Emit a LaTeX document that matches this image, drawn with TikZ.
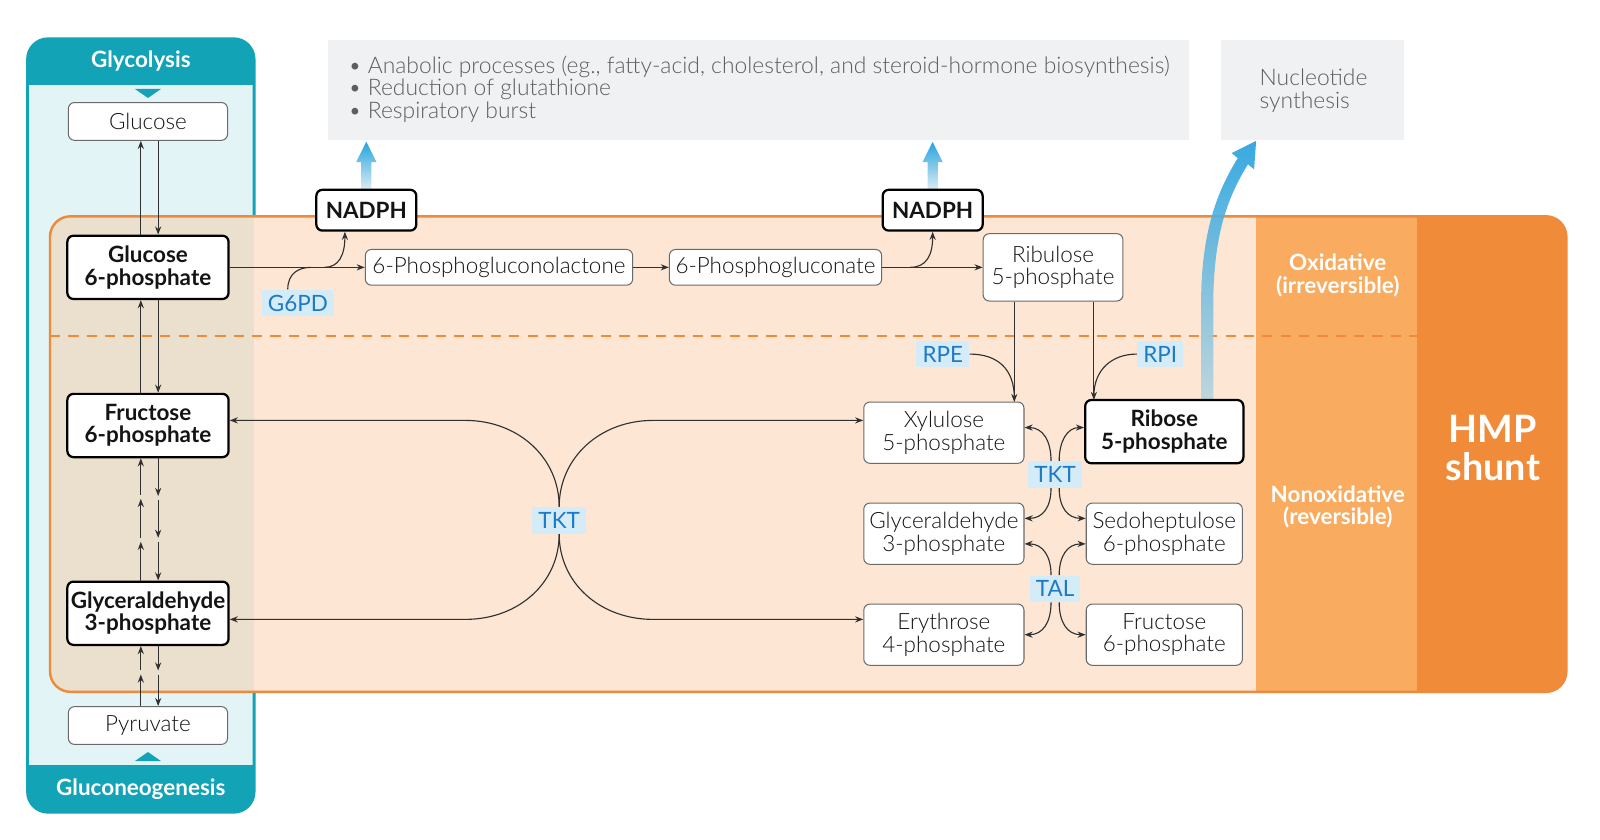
\documentclass[tikz,border=0pt]{standalone}
\usepackage{fontspec}
\setmainfont{Lato}
\IfFontExistsTF{Lato Light}{\newfontfamily\lightfont{Lato Light}}{\let\lightfont\relax}
\usetikzlibrary{arrows.meta,calc}
\definecolor{hdrteal}{HTML}{12A3B7}
\definecolor{cyanbg}{HTML}{E3F4F6}
\definecolor{orbord}{HTML}{EE8A3A}
\definecolor{beigebg}{HTML}{FDE6D3}
\definecolor{overlapbg}{HTML}{EBE0CD}
\definecolor{midor}{HTML}{F9AB5F}
\definecolor{darkor}{HTML}{EF8B39}
\definecolor{grayboxbg}{HTML}{F0F1F3}
\definecolor{graytxt}{HTML}{5E5E5E}
\definecolor{enzfill}{HTML}{D4ECF8}
\definecolor{enzblue}{HTML}{1F7AC4}
\definecolor{hblue}{HTML}{27A3DE}
\definecolor{hlight}{HTML}{E4F0F5}
\definecolor{hgray}{HTML}{BCD5DE}
\definecolor{arrgray}{HTML}{303030}
\definecolor{boxgray}{HTML}{6A6A6A}
\definecolor{nodetxt}{HTML}{141414}
\begin{document}
\begin{tikzpicture}[x=0.5pt,y=-0.5pt,
  box/.style={draw=boxgray, line width=0.5pt, fill=white, rounded corners=3pt, align=center, inner sep=0pt, text=nodetxt, font=\lightfont\fontsize{11}{11}\selectfont},
  bbox/.style={box, draw=black, line width=1.1pt, font=\normalfont\bfseries\fontsize{11}{11}\selectfont},
  enz/.style={fill=enzfill, text=enzblue, inner xsep=3pt, inner ysep=0pt, minimum height=13pt, font=\fontsize{11}{11}\selectfont},
  arr/.style={-{Stealth[length=4pt,width=3pt]}, line width=0.55pt, draw=arrgray},
  ln/.style={line width=0.55pt, draw=arrgray},
  hdr/.style={text=white, font=\bfseries\fontsize{11}{11}\selectfont},
  side/.style={text=white, align=center, font=\bfseries\fontsize{11}{11}\selectfont},
  graytext/.style={text=graytxt, anchor=base west, inner sep=0pt, font=\lightfont\fontsize{11.2}{11}\selectfont}
]
\useasboundingbox (0,0) rectangle (1568,823);
\fill[white] (0,0) rectangle (1568,823);

% ---------- blue glycolysis box ----------
\begin{scope}
  \clip[rounded corners=10pt] (27,38) rectangle (249,796);
  \fill[cyanbg] (27,38) rectangle (249,796);
  \fill[hdrteal] (27,38) rectangle (249,83);
  \fill[hdrteal] (27,750) rectangle (249,796);
\end{scope}
\draw[hdrteal, line width=1.4pt, rounded corners=10pt] (27,38) rectangle (249,796);
\node[hdr] (glyc) at (138,60) {Glycolysis};
\node[hdr] (gneo) at (138,773) {Gluconeogenesis};
\fill[hdrteal] (132,87) -- (158,87) -- (145,96) -- cycle;
\fill[hdrteal] (132,746) -- (158,746) -- (145,737) -- cycle;

% ---------- orange HMP box ----------
\begin{scope}
  \clip[rounded corners=10pt] (49,212) rectangle (1535,678);
  \fill[beigebg] (49,212) rectangle (1535,678);
  \fill[overlapbg] (49,212) rectangle (249,678);
  \fill[midor] (1231,212) rectangle (1389,678);
  \fill[darkor] (1389,212) rectangle (1535,678);
\end{scope}
\draw[orbord, line width=1.1pt, dash pattern=on 5pt off 4pt] (49,329) -- (1389,329);
\draw[orbord, line width=1.2pt, rounded corners=10pt] (49,212) rectangle (1535,678);
\node[side] (oxi) at (1311,270) {Oxidative\\(irreversible)};
\node[side] (nonoxi) at (1311,497) {Nonoxidative\\(reversible)};
\node[text=white, align=center, font=\bfseries\fontsize{18.5}{18.5}\selectfont] (hmp) at (1463,439) {HMP\\shunt};

% ---------- gray boxes ----------
\fill[grayboxbg] (321,39) rectangle (1165,137);
\fill[grayboxbg] (1197,39) rectangle (1376,137);
\node[graytext] (l1) at (341,72) {• Anabolic processes (eg., fatty-acid, cholesterol, and steroid-hormone biosynthesis)};
\node[graytext] (l2) at (341,94) {• Reduction of glutathione};
\node[graytext] (l3) at (341,116) {• Respiratory burst};
\node[graytext] (n1) at (1234,84) {Nucleotide};
\node[graytext] (n2) at (1234,106) {synthesis};

% ---------- blue NADPH arrows ----------
\shade[top color=hblue, bottom color=hlight] (354,188) -- (354,159) -- (349,159) -- (359,139) -- (369,159) -- (364,159) -- (364,188) -- cycle;
\shade[top color=hblue, bottom color=hlight] (909,188) -- (909,159) -- (904,159) -- (914,139) -- (924,159) -- (919,159) -- (919,188) -- cycle;
\shade[top color=hblue, bottom color=hgray, opacity=0.92] (1177,394) -- (1177,300) .. controls (1177,228) and (1192,189) .. (1213,155) -- (1207,150) -- (1231,138) -- (1229,166) -- (1223,161) .. controls (1202,195) and (1189,232) .. (1189,300) -- (1189,394) -- cycle;

% ---------- left column nodes ----------
\node[box, minimum width=78pt, minimum height=18.5pt] (glucose) at (145,119) {Glucose};
\node[bbox, minimum width=79pt, minimum height=31pt] (g6p) at (145,262) {Glucose\\6-phosphate};
\node[bbox, minimum width=79pt, minimum height=31pt] (f6p) at (145,417) {Fructose\\6-phosphate};
\node[bbox, minimum width=79pt, minimum height=31pt] (ga3p) at (145,601) {Glyceraldehyde\\3-phosphate};
\node[box, minimum width=78pt, minimum height=18.5pt] (pyr) at (145,711) {Pyruvate};

% ---------- oxidative row ----------
\node[bbox, minimum width=49pt, minimum height=20pt] (nadph1) at (359,206) {NADPH};
\node[bbox, minimum width=49pt, minimum height=20pt] (nadph2) at (914,206) {NADPH};
\node[box, minimum width=131pt, minimum height=17.5pt] (pgl) at (489,262) {6-Phosphogluconolactone};
\node[box, minimum width=104pt, minimum height=17.5pt] (pg) at (760,262) {6-Phosphogluconate};
\node[box, minimum width=68.5pt, minimum height=33pt] (ru5p) at (1032,262) {Ribulose\\5-phosphate};

% ---------- nonoxidative nodes ----------
\node[box, minimum width=78.5pt, minimum height=30pt] (xyl) at (925,424) {Xylulose\\5-phosphate};
\node[bbox, minimum width=77.5pt, minimum height=31pt] (rib) at (1141,423) {Ribose\\5-phosphate};
\node[box, minimum width=78.5pt, minimum height=30pt] (ga3pr) at (925,523) {Glyceraldehyde\\3-phosphate};
\node[box, minimum width=76.5pt, minimum height=30pt] (sedo) at (1141,523) {Sedoheptulose\\6-phosphate};
\node[box, minimum width=78.5pt, minimum height=30pt] (ery) at (925,622) {Erythrose\\4-phosphate};
\node[box, minimum width=76.5pt, minimum height=30pt] (f6pr) at (1141,622) {Fructose\\6-phosphate};

% ---------- enzyme labels ----------
\node[enz] (g6pd) at (292,297) {G6PD};
\node[enz] (rpe) at (924,347) {RPE};
\node[enz] (rpi) at (1137,347) {RPI};
\node[enz] (tkt1) at (548,510) {TKT};
\node[enz] (tkt2) at (1034,465) {TKT};
\node[enz] (tal) at (1034,577) {TAL};

% ---------- left column arrows ----------
\draw[arr] ($(g6p.north)+(-7,0)$) -- ($(glucose.south)+(-7,0)$);
\draw[arr] ($(glucose.south)+(10,0)$) -- ($(g6p.north)+(10,0)$);
\draw[arr] ($(f6p.north)+(-7,0)$) -- ($(g6p.south)+(-7,0)$);
\draw[arr] ($(g6p.south)+(10,0)$) -- ($(f6p.north)+(10,0)$);
% F6P <-> GA3P (three steps)
\draw[arr] ($(ga3p.north)+(-7,0)$) -- ($(ga3p.north)+(-7,-38)$);
\draw[arr] ($(ga3p.north)+(-7,-42)$) -- ($(ga3p.north)+(-7,-80)$);
\draw[arr] ($(ga3p.north)+(-7,-84)$) -- ($(f6p.south)+(-7,0)$);
\draw[arr] ($(f6p.south)+(10,0)$) -- ($(f6p.south)+(10,37)$);
\draw[arr] ($(f6p.south)+(10,41)$) -- ($(f6p.south)+(10,78)$);
\draw[arr] ($(f6p.south)+(10,82)$) -- ($(ga3p.north)+(10,0)$);
% GA3P <-> Pyruvate (two steps)
\draw[arr] ($(pyr.north)+(-7,0)$) -- ($(pyr.north)+(-7,-31)$);
\draw[arr] ($(pyr.north)+(-7,-35)$) -- ($(ga3p.south)+(-7,0)$);
\draw[arr] ($(ga3p.south)+(10,0)$) -- ($(ga3p.south)+(10,24)$);
\draw[arr] ($(ga3p.south)+(10,28)$) -- ($(pyr.north)+(10,0)$);

% ---------- oxidative arrows ----------
\draw[arr] (g6p.east) -- (g6p.east -| pgl.west);
\draw[ln] ($(g6pd.north)+(-10,0)$) .. controls +(0,-16) and +(-12,0) .. (305,262);
\draw[arr] (318,262) .. controls (332,262) and (338,250) .. ($(nadph1.south)+(-21,0)$);
\draw[arr] (pgl.east) -- (pgl.east -| pg.west);
\draw[arr] (pg.east) -- (pg.east -| ru5p.west);
\draw[arr] (892,262) .. controls (908,262) and (914,250) .. (nadph2.south);

% ---------- ribulose to pentoses ----------
\draw[arr] (ru5p.south -| 994,0) -- (994,394);
\draw[arr] (ru5p.south -| 1072,0) -- (1072,392);
\draw[ln] (rpe.east) .. controls (978,347) and (994,362) .. (994,390);
\draw[ln] (rpi.west) .. controls (1090,347) and (1072,362) .. (1072,388);

% ---------- big TKT crossing ----------
\coordinate (tl) at (456,412);
\coordinate (tr) at (640,412);
\coordinate (bl) at (456,607);
\coordinate (br) at (640,607);
\draw[arr] (tkt1.north) .. controls +(0,-48) and +(52,0) .. (tl) -- (tl -| f6p.east);
\draw[arr] (tkt1.north) .. controls +(0,-48) and +(-52,0) .. (tr) -- (tr -| xyl.west);
\draw[arr] (tkt1.south) .. controls +(0,48) and +(52,0) .. (bl) -- (bl -| ga3p.east);
\draw[arr] (tkt1.south) .. controls +(0,48) and +(-52,0) .. (br) -- (br -| ery.west);

% ---------- small TKT / TAL ----------
\draw[arr] ($(tkt2.north)+(-4,0)$) .. controls (1030,432) and (1022,419) .. (xyl.east |- 0,419);
\draw[arr] ($(tkt2.north)+(4,0)$) .. controls (1038,432) and (1046,419) .. (rib.west |- 0,419);
\draw[arr] ($(tkt2.south)+(-4,0)$) .. controls (1030,497) and (1022,508) .. (ga3pr.east |- 0,508);
\draw[arr] ($(tkt2.south)+(4,0)$) .. controls (1038,497) and (1046,508) .. (sedo.west |- 0,508);
\draw[arr] ($(tal.north)+(-4,0)$) .. controls (1030,545) and (1022,533) .. (ga3pr.east |- 0,533);
\draw[arr] ($(tal.north)+(4,0)$) .. controls (1038,545) and (1046,533) .. (sedo.west |- 0,533);
\draw[arr] ($(tal.south)+(-4,0)$) .. controls (1030,610) and (1022,622) .. (ery.east |- 0,622);
\draw[arr] ($(tal.south)+(4,0)$) .. controls (1038,610) and (1046,622) .. (f6pr.west |- 0,622);
\end{tikzpicture}
\end{document}
